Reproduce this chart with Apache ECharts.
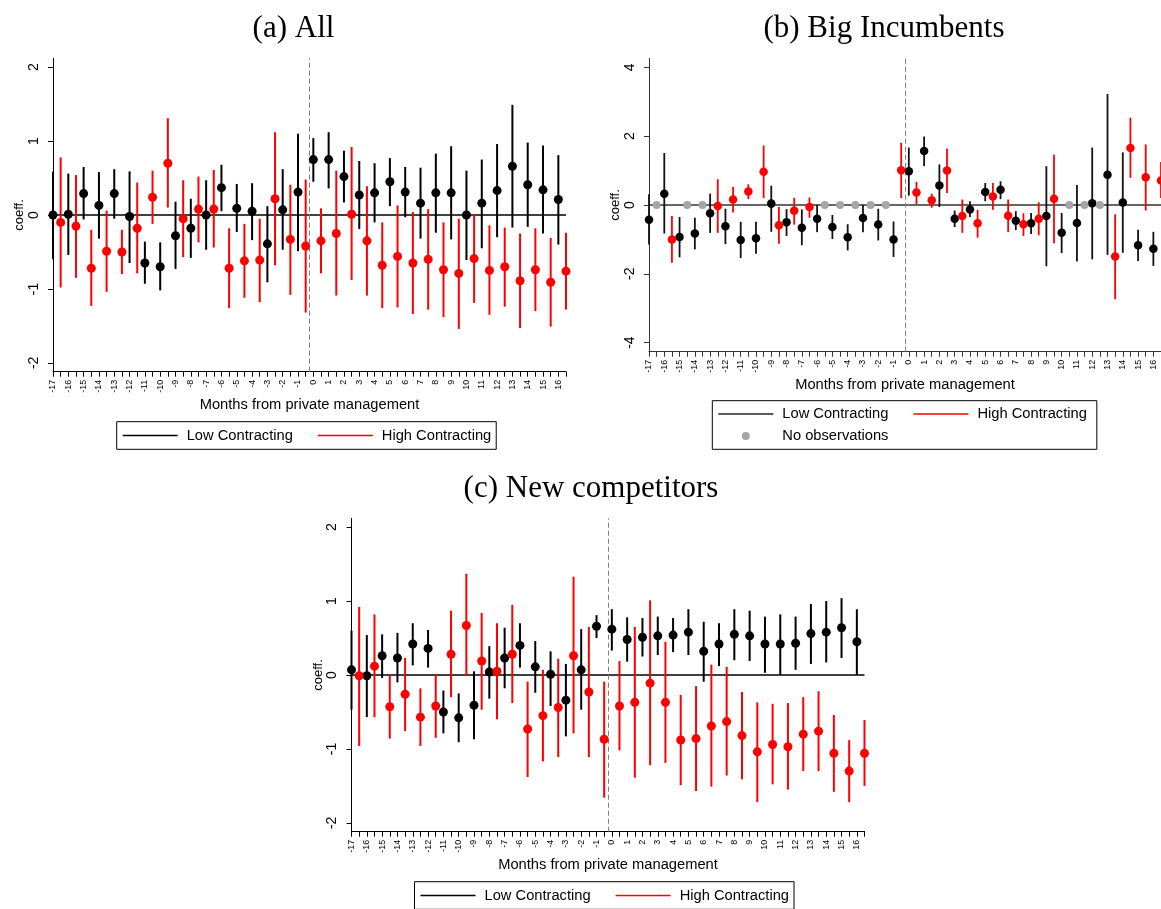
<!DOCTYPE html>
<html>
<head>
<meta charset="utf-8">
<script src="https://cdn.jsdelivr.net/npm/echarts@6/dist/echarts.min.js"></script>
<style>
html,body{margin:0;padding:0;background:#fff;}
#chart{width:1161px;height:909px;}
</style>
</head>
<body>
<div id="chart"></div>
<script>
// ---------------- DATA ----------------
const months = [-17,-16,-15,-14,-13,-12,-11,-10,-9,-8,-7,-6,-5,-4,-3,-2,-1,0,1,2,3,4,5,6,7,8,9,10,11,12,13,14,15,16];
const highOffset = 0.5;      // High Contracting estimates are plotted half a month to the right
const eventLine = -0.25;     // dashed reference line
const yTicksSmall = [-2,-1,0,1,2];
const yTicksBig = [-4,-2,0,2,4];
const xTitle = 'Months from private management';
const yTitle = 'coeff.';
const lowName = 'Low Contracting';
const highName = 'High Contracting';
const noObsName = 'No observations';
const titles = ['(a) All', '(b) Big Incumbents', '(c) New competitors'];

// (a) All
const aLowCoef = [0.00,0.01,0.29,0.13,0.29,-0.02,-0.65,-0.70,-0.28,-0.18,0.00,0.37,0.09,0.05,-0.39,0.07,0.31, 0.75,0.75,0.52,0.27,0.30,0.45,0.31,0.16,0.30,0.30,0.00,0.16,0.33,0.66,0.41,0.34,0.21];
const aLowHi   = [0.59,0.56,0.65,0.58,0.62,0.59,-0.36,-0.37,0.18,0.22,0.47,0.68,0.42,0.43,0.12,0.62,1.10, 1.04,1.12,0.87,0.73,0.70,0.77,0.65,0.64,0.83,0.93,0.60,0.75,0.96,1.49,0.98,0.94,0.81];
const aLowLo   = [-0.60,-0.54,-0.06,-0.32,-0.05,-0.65,-0.93,-1.02,-0.73,-0.58,-0.47,0.05,-0.23,-0.34,-0.91,-0.47,-0.49, 0.45,0.36,0.17,-0.19,-0.10,0.12,-0.03,-0.32,-0.24,-0.33,-0.61,-0.45,-0.30,-0.17,-0.16,-0.25,-0.40];
const aHighCoef = [-0.10,-0.15,-0.72,-0.49,-0.50,-0.18,0.24,0.70,-0.05,0.08,0.08,-0.72,-0.62,-0.61,0.22,-0.33,-0.42, -0.35,-0.25,0.01,-0.35,-0.68,-0.56,-0.65,-0.60,-0.74,-0.79,-0.59,-0.75,-0.70,-0.89,-0.74,-0.91,-0.76];
const aHighHi   = [0.78,0.54,-0.20,0.06,-0.20,0.44,0.60,1.31,0.47,0.52,0.61,-0.18,-0.12,-0.05,1.12,0.41,0.48, 0.09,0.60,0.92,0.39,-0.10,0.13,0.04,0.08,-0.10,-0.05,0.01,-0.14,-0.17,-0.25,-0.18,-0.31,-0.24];
const aHighLo   = [-0.98,-0.85,-1.23,-1.04,-0.80,-0.79,-0.12,0.10,-0.57,-0.37,-0.44,-1.26,-1.12,-1.18,-0.68,-1.08,-1.32, -0.79,-1.09,-0.88,-1.09,-1.26,-1.25,-1.34,-1.28,-1.38,-1.54,-1.19,-1.35,-1.24,-1.53,-1.30,-1.51,-1.28];

// (b) Big Incumbents (null = no observations)
const bLowCoef = [-0.43,0.33,-0.93,-0.83,-0.24,-0.62,-1.02,-0.97,0.04,-0.50,-0.66,-0.40,-0.64,-0.94,-0.38,-0.57,-1.00, 0.98,1.57,0.57,-0.40,-0.13,0.38,0.44,-0.46,-0.53,-0.32,-0.81,-0.52,0.05,0.88,0.07,-1.17,-1.27];
const bLowHi   = [0.31,1.51,-0.35,-0.37,0.33,-0.11,-0.49,-0.49,0.56,-0.12,-0.13,0.00,-0.29,-0.56,0.00,-0.11,-0.48, 1.67,1.99,1.18,-0.16,0.11,0.64,0.69,-0.18,-0.23,1.13,-0.23,0.58,1.67,3.23,1.53,-0.72,-0.78];
const bLowLo   = [-1.15,-0.83,-1.52,-1.29,-0.81,-1.14,-1.54,-1.42,-0.78,-0.90,-1.17,-0.79,-0.99,-1.32,-0.79,-1.03,-1.51, 0.27,1.13,-0.06,-0.64,-0.35,0.11,0.17,-0.73,-0.84,-1.78,-1.40,-1.64,-1.58,-1.45,-1.39,-1.63,-1.77];
const bHighCoef = [null,-1.00,null,null,-0.03,0.16,0.39,0.97,-0.59,-0.17,-0.06,null,null,null,null,null,1.01, 0.36,0.14,1.00,-0.32,-0.53,0.25,-0.31,-0.56,-0.40,0.18,null,null,null,-1.50,1.66,0.81,0.71];
const bHighHi   = [null,-0.32,null,null,0.75,0.52,0.60,1.73,-0.06,0.21,0.22,null,null,null,null,null,1.81, 0.67,0.33,1.64,0.16,-0.14,0.64,0.16,-0.24,0.08,1.46,null,null,null,-0.27,2.54,1.76,1.25];
const bHighLo   = [null,-1.68,null,null,-0.81,-0.22,0.17,0.20,-1.13,-0.57,-0.37,null,null,null,null,null,0.20, 0.02,-0.08,0.35,-0.81,-0.95,-0.14,-0.79,-0.90,-0.88,-1.11,null,null,null,-2.74,0.79,-0.16,0.20];

// (c) New competitors
const cLowCoef = [0.07,-0.01,0.26,0.23,0.42,0.36,-0.50,-0.58,-0.41,0.04,0.23,0.40,0.11,0.01,-0.34,0.07,0.66, 0.62,0.48,0.51,0.53,0.54,0.58,0.32,0.42,0.55,0.53,0.42,0.42,0.43,0.56,0.58,0.64,0.45];
const cLowHi   = [0.60,0.54,0.55,0.57,0.70,0.61,-0.21,-0.25,0.05,0.39,0.64,0.70,0.46,0.32,0.15,0.62,0.81, 0.89,0.78,0.77,0.79,0.77,0.89,0.72,0.70,0.89,0.87,0.79,0.82,0.79,0.96,1.00,1.04,0.89];
const cLowLo   = [-0.47,-0.57,-0.04,-0.10,0.13,0.10,-0.79,-0.91,-0.87,-0.32,-0.18,0.10,-0.24,-0.42,-0.83,-0.47,0.50, 0.33,0.18,0.25,0.27,0.31,0.27,-0.09,0.12,0.20,0.19,0.03,0.00,0.07,0.15,0.17,0.23,0.00];
const cHighCoef = [-0.01,0.12,-0.43,-0.26,-0.57,-0.42,0.28,0.67,0.19,0.05,0.28,-0.73,-0.55,-0.44,0.26,-0.23,-0.87, -0.42,-0.37,-0.11,-0.37,-0.88,-0.86,-0.69,-0.63,-0.82,-1.04,-0.94,-0.97,-0.80,-0.76,-1.06,-1.30,-1.06];
const cHighHi   = [0.92,0.82,0.00,0.23,-0.18,0.01,0.87,1.37,0.84,0.70,0.95,-0.09,0.07,0.22,1.33,0.65,-0.09, 0.19,0.65,1.01,0.45,-0.27,-0.15,0.14,0.11,-0.23,-0.37,-0.39,-0.38,-0.30,-0.22,-0.54,-0.88,-0.61];
const cHighLo   = [-0.96,-0.57,-0.86,-0.76,-0.96,-0.85,-0.30,-0.01,-0.47,-0.60,-0.38,-1.38,-1.17,-1.11,-0.79,-1.11,-1.66, -1.02,-1.39,-1.22,-1.19,-1.49,-1.57,-1.51,-1.36,-1.41,-1.72,-1.48,-1.55,-1.30,-1.30,-1.58,-1.72,-1.50];

// ---------------- OPTIONS ----------------
const RED = '#ff0000', BLACK = '#000000', GRAY = '#a6a6a6';
const SANS = 'Liberation Sans', SERIF = 'Liberation Serif';
const xMin = months[0], xMax = months[months.length-1] + highOffset;
const xTickVals = [];
months.forEach(m => { xTickVals.push(m); xTickVals.push(m + highOffset); });
const highX = months.map(m => m + highOffset);

function xAxisCfg(gi, lc) {
  return {
    type: 'value', gridIndex: gi, min: xMin, max: xMax,
    name: xTitle, nameLocation: 'middle', nameGap: 26,
    nameTextStyle: {fontFamily: SANS, fontSize: 14.7, color: '#000'},
    axisLine: {show: true, onZero: false, lineStyle: {color: lc, width: 1}},
    axisTick: {show: true, customValues: xTickVals, length: 5, lineStyle: {color: lc, width: 1}},
    axisLabel: {customValues: months, rotate: 90, fontSize: 9, margin: 8, color: '#000', fontFamily: SANS},
    splitLine: {show: false}
  };
}
function yAxisCfg(gi, lim, ticks, lc) {
  return {
    type: 'value', gridIndex: gi, min: -lim, max: lim,
    name: yTitle, nameLocation: 'middle', nameGap: 26, nameRotate: 90,
    nameTextStyle: {fontFamily: SANS, fontSize: 13, color: '#000'},
    axisLine: {show: true, onZero: false, lineStyle: {color: lc, width: 1}},
    axisTick: {show: true, customValues: ticks, length: 5, lineStyle: {color: lc, width: 1}},
    axisLabel: {customValues: ticks, rotate: 90, fontSize: 14, margin: 12, color: '#000', fontFamily: SANS},
    splitLine: {show: false}
  };
}
function errSeries(gi, name, xs, lo, hi, color, w, withRefs) {
  const data = [];
  xs.forEach((x, i) => { if (lo[i] != null) data.push([x, lo[i], hi[i]]); });
  const s = {
    type: 'custom', name: name, xAxisIndex: gi, yAxisIndex: gi, z: 3,
    itemStyle: {color: color},
    encode: {x: 0, y: [1, 2]},
    data: data,
    renderItem: function (params, api) {
      const p1 = api.coord([api.value(0), api.value(1)]);
      const p2 = api.coord([api.value(0), api.value(2)]);
      return {type: 'line', shape: {x1: p1[0], y1: p1[1], x2: p2[0], y2: p2[1]},
              style: {stroke: color, lineWidth: w}};
    }
  };
  if (withRefs) {
    s.markLine = {
      silent: true, symbol: 'none', label: {show: false}, animation: false, z: 1,
      data: [
        {yAxis: 0, lineStyle: {color: withRefs, width: 1.5, type: 'solid'}},
        {xAxis: eventLine, lineStyle: {color: '#808080', width: 1, type: [5, 3]}}
      ]
    };
  }
  return s;
}
function ptSeries(gi, name, xs, coef, color, size) {
  const data = [];
  xs.forEach((x, i) => { if (coef[i] != null) data.push([x, coef[i]]); });
  return {type: 'scatter', name: name, xAxisIndex: gi, yAxisIndex: gi, z: 4,
          symbol: 'circle', symbolSize: size, itemStyle: {color: color, opacity: 1, borderWidth: 0},
          data: data};
}
function noObsSeries(gi, xs, coef) {
  const data = [];
  xs.forEach((x, i) => { if (coef[i] == null) data.push([x, 0]); });
  return {type: 'scatter', name: noObsName, xAxisIndex: gi, yAxisIndex: gi, z: 4,
          symbol: 'circle', symbolSize: 8, itemStyle: {color: GRAY, opacity: 1}, data: data};
}

const linePath = 'path://M0,0H55V1.6H0Z';
// circle centred in a 55-wide icon box (degenerate end points keep the box width)
const dotPath = 'path://M0,4L0.01,4Z M23.5,4A4,4,0,1,1,31.5,4A4,4,0,1,1,23.5,4Z M54.99,4L55,4Z';
const legendText = {fontFamily: SANS, fontSize: 14.7, color: '#000', lineHeight: 16, padding: [0, 0, 0, 4]};
function legendCfg(left, top, items, padding, border) {
  return {
    left: left, top: top, orient: 'horizontal', selectedMode: false,
    itemWidth: 55, itemHeight: 10, itemGap: 25,
    textStyle: legendText, padding: padding,
    borderColor: border ? '#000' : 'transparent', borderWidth: border ? 1 : 0,
    data: items
  };
}
function lineItem(name, color) { return {name: name, icon: linePath, itemStyle: {color: color, borderWidth: 0}}; }

const titleStyle = {fontFamily: SERIF, fontSize: 31, fontWeight: 'normal', color: '#000'};
const option = {
  animation: false,
  backgroundColor: '#fff',
  title: [
    {text: titles[0], left: 288.5, top: 8, textAlign: 'center', textStyle: titleStyle},
    {text: titles[1], left: 879, top: 8, textAlign: 'center', textStyle: titleStyle},
    {text: titles[2], left: 586, top: 468, textAlign: 'center', textStyle: titleStyle}
  ],
  grid: [
    {left: 53, top: 58.3, width: 513, height: 313.4},
    {left: 649, top: 58.3, width: 512.6, height: 293.4},
    {left: 351.5, top: 518.3, width: 513, height: 313.4}
  ],
  xAxis: [xAxisCfg(0, '#000'), xAxisCfg(1, '#333'), xAxisCfg(2, '#000')],
  yAxis: [yAxisCfg(0, 2.12, yTicksSmall, '#000'), yAxisCfg(1, 4.265, yTicksBig, '#333'), yAxisCfg(2, 2.12, yTicksSmall, '#000')],
  legend: [
    legendCfg(116.7, 421.7, [lineItem(lowName, BLACK), lineItem(highName, RED)], [5.8, 5, 5.8, 6], true),
    legendCfg(712.3, 400.7, [lineItem(lowName, '#222'), lineItem(highName, RED)], [5.3, 10, 27.3, 6], true),
    legendCfg(712.3, 428, [{name: noObsName, icon: dotPath, itemStyle: {color: GRAY, borderWidth: 0}}], [0, 0, 0, 6], false),
    legendCfg(414.5, 881.7, [lineItem(lowName, BLACK), lineItem(highName, RED)], [5.8, 5, 5.8, 6], true)
  ],
  series: [
    errSeries(0, lowName, months, aLowLo, aLowHi, BLACK, 2, '#000'),
    ptSeries(0, lowName, months, aLowCoef, BLACK, 9),
    errSeries(0, highName, highX, aHighLo, aHighHi, RED, 2, null),
    ptSeries(0, highName, highX, aHighCoef, RED, 9),

    errSeries(1, lowName, months, bLowLo, bLowHi, '#111', 1.8, '#333'),
    ptSeries(1, lowName, months, bLowCoef, BLACK, 8.5),
    errSeries(1, highName, highX, bHighLo, bHighHi, RED, 1.8, null),
    ptSeries(1, highName, highX, bHighCoef, RED, 8.5),
    noObsSeries(1, highX, bHighCoef),

    errSeries(2, lowName, months, cLowLo, cLowHi, BLACK, 2, '#000'),
    ptSeries(2, lowName, months, cLowCoef, BLACK, 9),
    errSeries(2, highName, highX, cHighLo, cHighHi, RED, 2, null),
    ptSeries(2, highName, highX, cHighCoef, RED, 9)
  ]
};
const chart = echarts.init(document.getElementById('chart'));
chart.setOption(option);
</script>
</body>
</html>
